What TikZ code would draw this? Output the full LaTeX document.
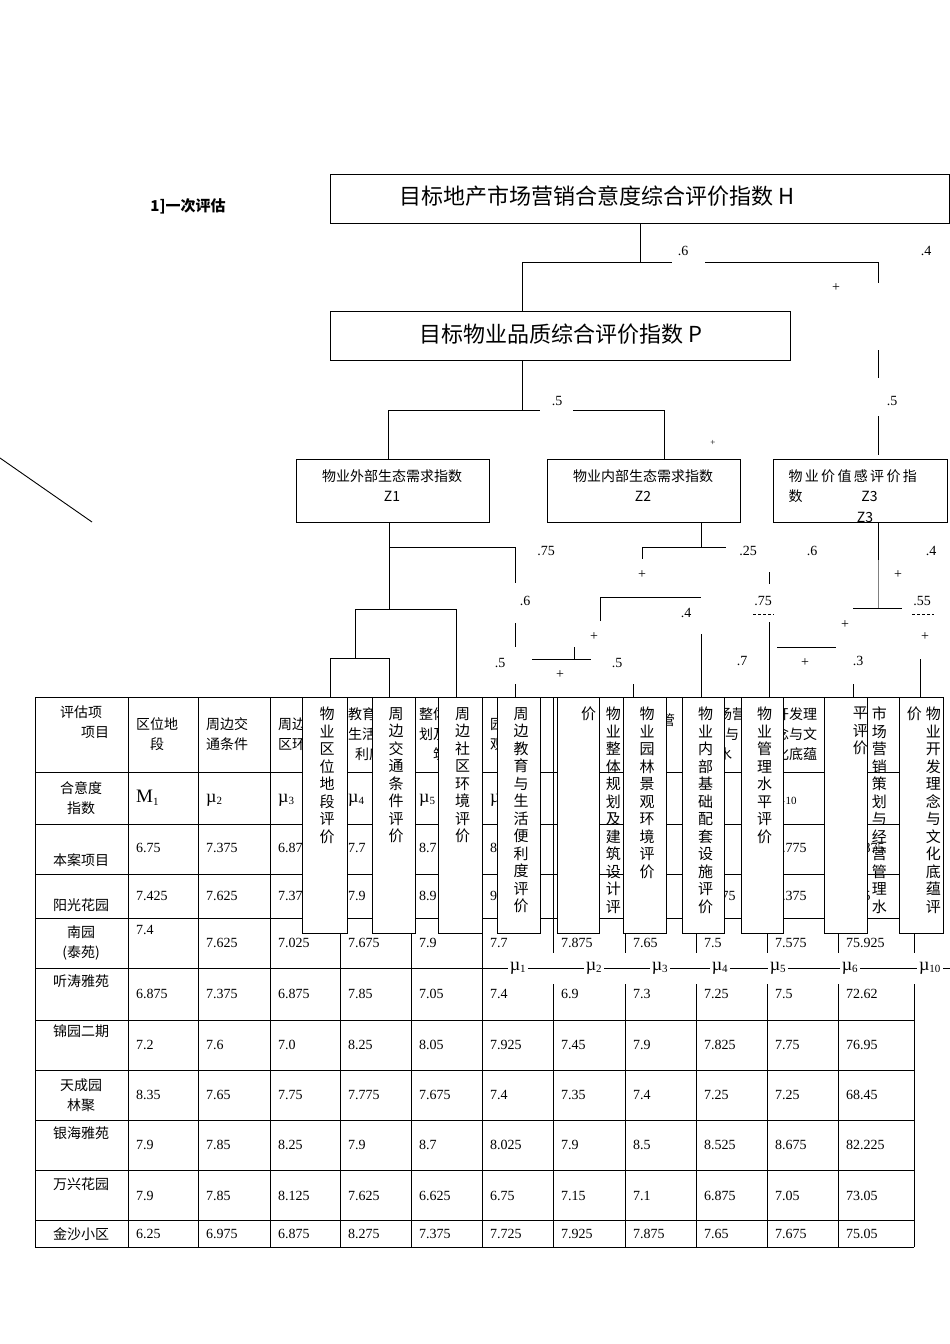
\documentclass[tikz,border=0pt]{standalone}
\usepackage{fontspec}
\setmainfont{Liberation Serif}
\newfontfamily\cjk{Noto Sans CJK SC}
\XeTeXlinebreaklocale "zh"
\XeTeXlinebreakskip=0pt plus 1pt
\begin{document}
\begin{tikzpicture}[x=1pt,y=-1pt,
  ln/.style={line width=0.9pt},
  hbox/.style={draw,line width=0.9pt,fill=white},
  vbox/.style={draw,line width=0.9pt,fill=white,anchor=north west,minimum height=236pt,inner sep=0pt},
  vtxt/.style={anchor=north,text width=1.05em,align=center,inner sep=0pt,font=\cjk\fontsize{15}{17.5}\selectfont},
  lab/.style={font=\fontsize{14}{14}\selectfont,inner sep=1pt},
  cell/.style={anchor=west,font=\fontsize{14}{16}\selectfont,inner sep=0pt},
  ccell/.style={font=\cjk\fontsize{14}{20}\selectfont,align=center,inner sep=0pt},
  grid/.style={line width=0.6pt}]
\useasboundingbox (0,0) rectangle (950,1344);
\fill[white] (0,0) rectangle (950,1344);
% ---------- table ----------
\foreach \y in {697,772,824,874,918,968,1020,1070,1120,1170,1220,1247}
  \draw[grid] (35,\y) -- (914,\y);
\foreach \x in {35,128,198,270,340,411,482,553,625,696,767,838,914}
  \draw[grid] (\x,697) -- (\x,1247);
\node[ccell] (h0) at (81,722) {评估项\\\hspace*{2em}项目};
\node[ccell,anchor=west] (h1) at (136,734) {区位地\\段};
\node[ccell,anchor=west] (h2) at (206,734) {周边交\\通条件};
\node[ccell,anchor=west] (h3) at (278,734) {周边社\\区环境};
\node[ccell,anchor=west] (h4) at (348,734) {教育与\\生活便\\利度};
\node[ccell,anchor=west] (h5) at (419,734) {整体规\\划及建\\筑};
\node[ccell,anchor=west] (h6) at (490,734) {园林景\\观环境};
\node[ccell,anchor=west] (h8) at (633,720) {物业管};
\node[ccell,anchor=west] (h9) at (704,734) {市场营\\销与\\水};
\node[ccell,anchor=west] (h10) at (775,734) {开发理\\念与文\\化底蕴};
\node[ccell] (r0) at (81,798) {合意度\\指数};
\node[cell,font=\fontsize{19}{19}\selectfont] at (136,798) {M\textsubscript{\fontsize{11}{11}\selectfont 1}};
\foreach \x/\i in {206/2,278/3,348/4,419/5,490/6,775/10}
  \node[cell,font=\fontsize{18}{18}\selectfont] at (\x,800) {µ\textsubscript{\fontsize{11}{11}\selectfont\i}};
% rows
\newcommand\trow[3]{%
  \foreach \v [count=\c from 0] in {#3} {
    \pgfmathsetmacro\xx{{136,206,278,348,419,490,561,633,704,775,846}[\c]}
    \node[cell] at (\xx,#2) {\v};}}
\node[ccell] (n1) at (81,860) {本案项目};
\trow{}{848}{6.75,7.375,6.875,7.7,8.7,8.1,7.6,7.75,7.5,7.775,75.875}
\node[ccell] (n2) at (81,905) {阳光花园};
\trow{}{896}{7.425,7.625,7.375,7.9,8.9,9.0,7.9,7.8,7.875,7.375,78.5}
\node[ccell] (n3) at (81,943) {南园\\(泰苑)};
\node[cell] at (136,930) {7.4};
\trow{}{943}{,7.625,7.025,7.675,7.9,7.7,7.875,7.65,7.5,7.575,75.925}
\node[ccell] (n4) at (81,981) {听涛雅苑};
\trow{}{994}{6.875,7.375,6.875,7.85,7.05,7.4,6.9,7.3,7.25,7.5,72.62}
\node[ccell] (n5) at (81,1031) {锦园二期};
\trow{}{1045}{7.2,7.6,7.0,8.25,8.05,7.925,7.45,7.9,7.825,7.75,76.95}
\node[ccell] (n6) at (81,1095) {天成园\\林聚};
\trow{}{1095}{8.35,7.65,7.75,7.775,7.675,7.4,7.35,7.4,7.25,7.25,68.45}
\node[ccell] (n7) at (81,1133) {银海雅苑};
\trow{}{1145}{7.9,7.85,8.25,7.9,8.7,8.025,7.9,8.5,8.525,8.675,82.225}
\node[ccell] (n8) at (81,1184) {万兴花园};
\trow{}{1196}{7.9,7.85,8.125,7.625,6.625,6.75,7.15,7.1,6.875,7.05,73.05}
\node[ccell] (n9) at (81,1234) {金沙小区};
\trow{}{1234}{6.25,6.975,6.875,8.275,7.375,7.725,7.925,7.875,7.65,7.675,75.05}
% mu overlay band
\fill[white] (486,953) rectangle (950,984);
\draw[grid] (486,968) -- (950,968);
\foreach \x/\i in {518/1,594/2,660/3,720/4,778/5,850/6,930/10}
  \node[fill=white,inner sep=2pt,font=\fontsize{18}{18}\selectfont] (mu\i) at (\x,968) {µ\textsubscript{\fontsize{11}{11}\selectfont\i}};
% ---------- top boxes ----------
\node[hbox,minimum width=619pt,minimum height=49pt,anchor=north west] (H) at (330,174) {};
\node[font=\cjk\fontsize{22}{22}\selectfont] at (597,196) {目标地产市场营销合意度综合评价指数 H};
\node[hbox,minimum width=460pt,minimum height=49pt,anchor=north west] (P) at (330,311) {};
\node[font=\cjk\fontsize{22}{22}\selectfont] at (561,334) {目标物业品质综合评价指数 P};
\node[hbox,minimum width=193pt,minimum height=63pt,anchor=north west] (Z1) at (296,459) {};
\node[font=\cjk\fontsize{14}{20}\selectfont,align=center] at (392,486) {物业外部生态需求指数\\Z1};
\node[hbox,minimum width=193pt,minimum height=63pt,anchor=north west] (Z2) at (547,459) {};
\node[font=\cjk\fontsize{14}{20}\selectfont,align=center] at (643,486) {物业内部生态需求指数\\Z2};
\node[hbox,minimum width=174pt,minimum height=63pt,anchor=north west] (Z3) at (773,459) {};
\node[font=\cjk\fontsize{14}{20}\selectfont,align=left,anchor=north west] at (785,466) {物\,业\,价\,值\,感\,评\,价\,指\\数\hspace{4.2em}Z3};
\node[font=\cjk\fontsize{14}{14}\selectfont] at (865,517) {Z3};
\node[font=\cjk\bfseries\fontsize{15}{15}\selectfont] (title) at (188,206) {1]一次评估};
\draw[ln] (0,458) -- (92,522);
% ---------- tree lines ----------
\draw[ln] (640,223) -- (640,262) (522,262) -- (672,262) (522,262) -- (522,311);
\draw[ln] (705,262) -- (878,262) -- (878,283);
\draw[ln] (878,350) -- (878,378) (878,416) -- (878,455);
\node[lab] at (683,251) {.6}; \node[lab] at (926,251) {.4};
\node[lab] at (836,288) {+}; \node[lab] at (892,401) {.5};
\draw[ln] (522,360) -- (522,410) (388,410) -- (540,410) (388,410) -- (388,459);
\draw[ln] (573,410) -- (664,410) -- (664,459);
\node[lab] at (557,401) {.5}; \node[lab,font=\fontsize{9}{9}\selectfont] at (713,443) {+};
% Z1 subtree
\draw[ln] (389,522) -- (389,609) (389,547) -- (515,547) -- (515,583);
\draw[ln] (355,609) -- (456,609) -- (456,697);
\draw[ln] (355,609) -- (355,658) (330,658) -- (389,658) (330,658) -- (330,697) (389,658) -- (389,697);
\draw[ln] (515,623) -- (515,647) (515,684) -- (515,697);
\node[lab] at (546,551) {.75}; \node[lab] at (525,601) {.6}; \node[lab] at (500,663) {.5};
% Z2 subtree
\draw[ln] (701,522) -- (701,547) (642,547) -- (726,547) (642,547) -- (642,559);
\draw[ln] (769,572) -- (769,584);
\draw[ln] (600,621) -- (600,597) -- (701,597) (701,634) -- (701,697);
\draw[ln] (532,659) -- (591,659) (574,647) -- (574,659) (633,684) -- (633,697);
\draw[ln] (769,622) -- (769,697) (777,647) -- (836,647);
\node[lab] at (642,575) {+}; \node[lab] at (748,551) {.25}; \node[lab] at (812,551) {.6};
\node[lab] at (594,637) {+}; \node[lab] at (686,613) {.4};
\node[lab] at (560,675) {+}; \node[lab] at (617,663) {.5};
\node[lab] at (763,601) {.75}; \draw[dashed,line width=0.5pt,dash pattern=on 3pt off 2pt] (753,614) -- (774,614);
\node[lab] at (742,661) {.7}; \node[lab] at (805,663) {+};
% Z3 subtree
\draw[ln] (878,522) -- (878,560);
\draw[line width=0.6pt,gray] (878,560) -- (878,608);
\draw[ln] (853,608) -- (902,608) (853,684) -- (853,697) (920,659) -- (920,697);
\node[lab] at (931,551) {.4}; \node[lab] at (898,575) {+};
\node[lab] at (922,601) {.55}; \draw[dashed,line width=0.5pt,dash pattern=on 3pt off 2pt] (912,614) -- (934,614);
\node[lab] at (845,625) {+}; \node[lab] at (925,637) {+}; \node[lab] at (858,661) {.3};
% ---------- vertical boxes ----------
\foreach \n/\a/\b in {1/302/347,2/372/415,3/438/482,4/497/540,5/557/599,6/623/666,7/682/724,8/741/783,9/824/867,10/899/943}{
  \pgfmathsetmacro\w{\b-\a}
  \node[vbox,minimum width=\w pt] (v\n) at (\a,697) {};}
\node[vtxt] at ([yshift=-10pt]v1.north) {物业区位地段评价};
\node[vtxt] at ([yshift=-10pt]v2.north) {周边交通条件评价};
\node[vtxt] at ([yshift=-10pt]v3.north) {周边社区环境评价};
\node[vtxt] at ([yshift=-10pt]v4.north) {周边教育与生活便利度评价};
\node[vtxt] at ([xshift=8pt,yshift=-10pt]v5.north) {价};
\node[vtxt] at (611,707) {物业整体规划及建筑设计评};
\node[vtxt] at ([yshift=-10pt]v6.north) {物业园林景观环境评价};
\node[vtxt] at ([yshift=-10pt]v7.north) {物业内部基础配套设施评价};
\node[vtxt] at ([yshift=-10pt]v8.north) {物业管理水平评价};
\node[vtxt] at (858,707) {平评价};
\node[vtxt] at (877,707) {市场营销策划与经营管理水};
\node[vtxt] at (912,707) {价};
\node[vtxt] at (931,707) {物业开发理念与文化底蕴评};
\end{tikzpicture}
\end{document}
